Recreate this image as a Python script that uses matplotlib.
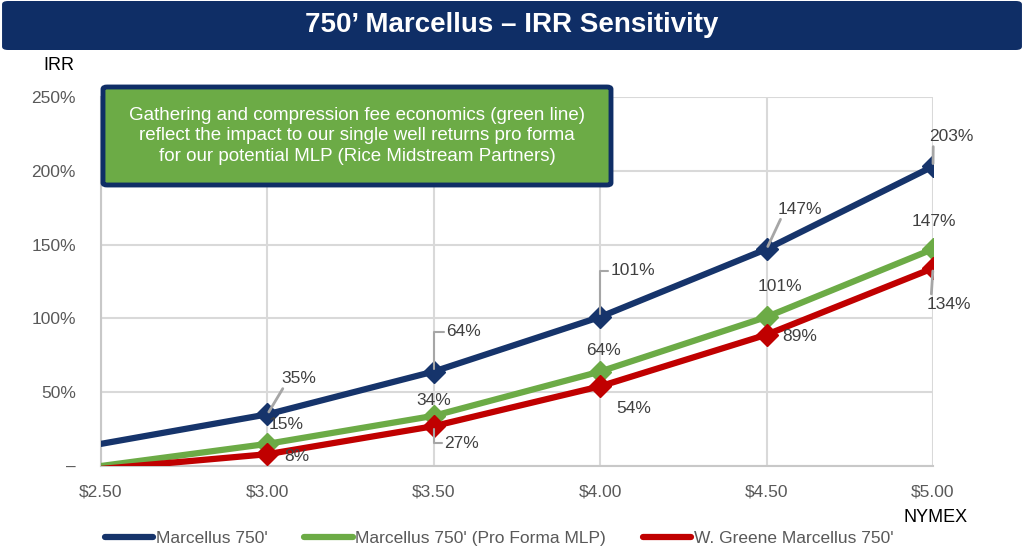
import matplotlib
matplotlib.use("Agg")
import matplotlib.pyplot as plt
from matplotlib.lines import Line2D
from matplotlib.patches import FancyBboxPatch

plt.rcParams['font.family'] = ['Liberation Sans', 'DejaVu Sans']

# data
nymex = [2.50, 3.00, 3.50, 4.00, 4.50, 5.00]
x_labels = ["$2.50", "$3.00", "$3.50", "$4.00", "$4.50", "$5.00"]
marcellus = [15, 35, 64, 101, 147, 203]
pro_forma = [0, 15, 34, 64, 101, 147]
w_greene = [-2, 8, 27, 54, 89, 134]
y_ticks = [0, 50, 100, 150, 200, 250]
y_labels = ["\u2013", "50%", "100%", "150%", "200%", "250%"]

names = ["Marcellus 750'", "Marcellus 750' (Pro Forma MLP)", "W. Greene Marcellus 750'"]
colors = ["#16346B", "#6CAB46", "#C00000"]

navy = "#0F2E66"
grid_c = "#D9D9D9"
text_c = "#595959"
lab_c = "#404040"
lead_c = "#A6A6A6"

fig = plt.figure(figsize=(10.24, 5.55), dpi=100)
ax = fig.add_axes([101 / 1024, 1 - 466 / 555, (933 - 101) / 1024, (466 - 97) / 555])

series = [marcellus, pro_forma, w_greene]
for vals, c in zip(series, colors):
    ax.plot(nymex, vals, color=c, lw=4.5, solid_capstyle='round', zorder=3)
    ax.plot(nymex[1:], vals[1:], ls='none', marker='D', ms=11, color=c, zorder=4)

ax.set_xlim(2.5, 5.0)
ax.set_ylim(0, 250)
ax.set_xticks(nymex)
ax.set_xticklabels(x_labels)
ax.set_yticks(y_ticks)
ax.set_yticklabels(y_labels)
ax.tick_params(length=0, labelsize=12.5, labelcolor=text_c)
ax.tick_params(axis='x', pad=13)
ax.tick_params(axis='y', pad=18)
ax.grid(True, color=grid_c, lw=1.5, zorder=0)
for s in ['top', 'right']:
    ax.spines[s].set_visible(False)
for s in ['left', 'bottom']:
    ax.spines[s].set_color("#C8C8C8")
    ax.spines[s].set_linewidth(1.5)

# data labels: (dx, dy) in px, leader style
def lab(x, y, txt, dx, dy, leader=None):
    kw = dict(xy=(x, y), xytext=(dx * 0.72, -dy * 0.72), textcoords='offset points',
              ha='center', va='center', fontsize=12.5, color=lab_c, zorder=6)
    if leader == 'diag_up':
        kw['arrowprops'] = dict(arrowstyle='-', color=lead_c, lw=2, shrinkA=0, shrinkB=2,
                                relpos=(0.1, 0.0))
    elif leader == 'diag_down':
        kw['arrowprops'] = dict(arrowstyle='-', color=lead_c, lw=2, shrinkA=0, shrinkB=2,
                                relpos=(0.1, 1.0))
    elif leader == 'elbow':
        kw['arrowprops'] = dict(arrowstyle='-', color=lead_c, lw=1.5, shrinkA=0, shrinkB=2,
                                relpos=(0.0, 0.5), connectionstyle="angle,angleA=0,angleB=90,rad=0")
    ax.annotate(txt, **kw)

blue_off = [(31, -36, 'diag_up'), (30, -40, 'elbow'), (33, -46, 'elbow'), (33, -40, 'diag_up'), (18, -30, 'diag_up')]
green_off = [(19, -19, None), (0, -15, None), (3, -21, None), (13, -30, None), (1, -28, None)]
red_off = [(29, 2, None), (28, 17, 'elbow'), (34, 22, None), (33, 2, None), (16, 36, 'diag_down')]

for vals, offs in zip(series, [blue_off, green_off, red_off]):
    for x, v, (dx, dy, ld) in zip(nymex[1:], vals[1:], offs):
        lab(x, v, f"{v}%", dx, dy, ld)

# title bar
fig.patches.append(FancyBboxPatch((0.002, 1 - 50 / 555), 0.996, 49 / 555,
                                  boxstyle="round,pad=0,rounding_size=0.006",
                                  transform=fig.transFigure, fc=navy, ec='none'))
fig.text(0.5, 1 - 25 / 555, "750\u2019 Marcellus \u2013 IRR Sensitivity", ha='center', va='center',
         color='white', fontsize=20, fontweight='bold')

fig.text(59 / 1024, 1 - 65 / 555, "IRR", ha='center', va='center', fontsize=13, color='black')
fig.text(936 / 1024, 1 - 517 / 555, "NYMEX", ha='center', va='center', fontsize=13, color='black')

# callout box
fig.patches.append(FancyBboxPatch((103 / 1024, 1 - 185 / 555), (611 - 103) / 1024, (185 - 87) / 555,
                                  boxstyle="round,pad=0,rounding_size=0.004",
                                  transform=fig.transFigure, fc="#6CAB46", ec=navy, lw=3.5, zorder=10))
fig.text(357 / 1024, 1 - 136 / 555,
         "Gathering and compression fee economics (green line)\n"
         "reflect the impact to our single well returns pro forma\n"
         "for our potential MLP (Rice Midstream Partners)",
         ha='center', va='center', color='white', fontsize=13.5, linespacing=1.25, zorder=11)

handles = [Line2D([], [], color=c, lw=4.5, solid_capstyle='round') for c in colors]
fig.legend(handles, names, loc='center', bbox_to_anchor=(499 / 1024, 1 - 538 / 555), ncol=3,
           frameon=False, fontsize=12.5, handlelength=2.8, handletextpad=0.15, columnspacing=2.1,
           labelcolor=text_c)

fig.savefig("out.png", dpi=100)
